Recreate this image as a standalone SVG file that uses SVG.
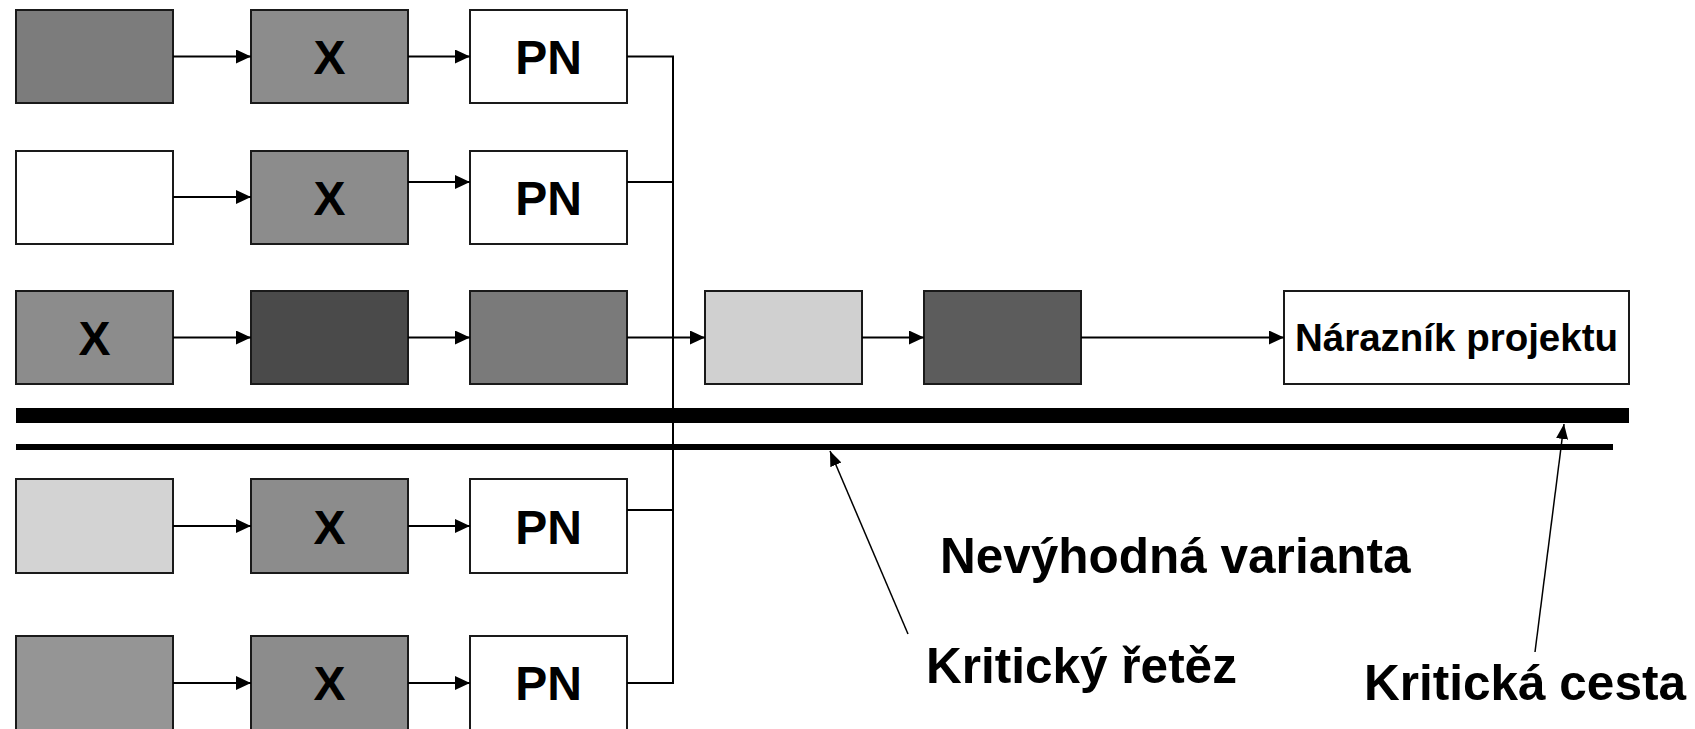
<svg xmlns="http://www.w3.org/2000/svg" width="1695" height="729" viewBox="0 0 1695 729">
<style>
.box{stroke:#1a1a1a;stroke-width:2}
.t{font-family:"Liberation Sans",Arial,sans-serif;font-weight:bold;fill:#000}
.big{font-size:48px}
.lbl{font-size:49.5px}
.c{text-anchor:middle}
.ln{stroke:#000;stroke-width:2;fill:none}
.ar{stroke:#000;stroke-width:2;fill:none;marker-end:url(#ah)}
.pt{stroke:#000;stroke-width:1.5;fill:none;marker-end:url(#ah2)}
</style>
<defs>
<marker id="ah" markerUnits="userSpaceOnUse" markerWidth="16" markerHeight="14" refX="15" refY="7" orient="auto">
<path d="M0,0 L15,7 L0,14 z" fill="#000"/>
</marker>
<marker id="ah2" markerUnits="userSpaceOnUse" markerWidth="16" markerHeight="14" refX="15" refY="6" orient="auto">
<path d="M0,0 L15,6 L0,12 z" fill="#000"/>
</marker>
</defs>
<rect width="1695" height="729" fill="#fff"/>

<g id="row1">
<g id="r1c1"><rect class="box" x="16" y="10" width="157" height="93" fill="#7c7c7c"/></g>
<g id="r1c2"><rect class="box" x="251" y="10" width="157" height="93" fill="#8c8c8c"/><text class="t big c" x="329.5" y="74">X</text></g>
<g id="r1c3"><rect class="box" x="470" y="10" width="157" height="93" fill="#fff"/><text class="t big c" x="548.5" y="74">PN</text></g>
</g>
<g id="row2">
<g id="r2c1"><rect class="box" x="16" y="151" width="157" height="93" fill="#fff"/></g>
<g id="r2c2"><rect class="box" x="251" y="151" width="157" height="93" fill="#8c8c8c"/><text class="t big c" x="329.5" y="215">X</text></g>
<g id="r2c3"><rect class="box" x="470" y="151" width="157" height="93" fill="#fff"/><text class="t big c" x="548.5" y="215">PN</text></g>
</g>
<g id="row3">
<g id="r3c1"><rect class="box" x="16" y="291" width="157" height="93" fill="#8c8c8c"/><text class="t big c" x="94.5" y="355">X</text></g>
<g id="r3c2"><rect class="box" x="251" y="291" width="157" height="93" fill="#4a4a4a"/></g>
<g id="r3c3"><rect class="box" x="470" y="291" width="157" height="93" fill="#7a7a7a"/></g>
<g id="r3c4"><rect class="box" x="705" y="291" width="157" height="93" fill="#d0d0d0"/></g>
<g id="r3c5"><rect class="box" x="924" y="291" width="157" height="93" fill="#5c5c5c"/></g>
<g id="buffer"><rect class="box" x="1284" y="291" width="345" height="93" fill="#fff"/><text class="t c" x="1456.5" y="351" font-size="38.5">Nárazník projektu</text></g>
</g>
<g id="row4">
<g id="r4c1"><rect class="box" x="16" y="479" width="157" height="94" fill="#d3d3d3"/></g>
<g id="r4c2"><rect class="box" x="251" y="479" width="157" height="94" fill="#8c8c8c"/><text class="t big c" x="329.5" y="544">X</text></g>
<g id="r4c3"><rect class="box" x="470" y="479" width="157" height="94" fill="#fff"/><text class="t big c" x="548.5" y="544">PN</text></g>
</g>
<g id="row5">
<g id="r5c1"><rect class="box" x="16" y="636" width="157" height="96" fill="#959595"/></g>
<g id="r5c2"><rect class="box" x="251" y="636" width="157" height="96" fill="#8c8c8c"/><text class="t big c" x="329.5" y="700">X</text></g>
<g id="r5c3"><rect class="box" x="470" y="636" width="157" height="96" fill="#fff"/><text class="t big c" x="548.5" y="700">PN</text></g>
</g>

<g id="bars">
<rect id="critical-path" x="16" y="408" width="1613" height="15" fill="#000"/>
<rect id="critical-chain" x="16" y="444" width="1597" height="6" fill="#000"/>
</g>

<g id="connectors">
<line class="ar" x1="173" y1="56.5" x2="251" y2="56.5"/>
<line class="ar" x1="408" y1="56.5" x2="470" y2="56.5"/>
<line class="ar" x1="173" y1="197" x2="251" y2="197"/>
<line class="ar" x1="408" y1="182" x2="470" y2="182"/>
<line class="ar" x1="173" y1="337.5" x2="251" y2="337.5"/>
<line class="ar" x1="408" y1="337.5" x2="470" y2="337.5"/>
<line class="ar" x1="627" y1="337.5" x2="705" y2="337.5"/>
<line class="ar" x1="862" y1="337.5" x2="924" y2="337.5"/>
<line class="ar" x1="1081" y1="337.5" x2="1284" y2="337.5"/>
<line class="ar" x1="173" y1="526" x2="251" y2="526"/>
<line class="ar" x1="408" y1="526" x2="470" y2="526"/>
<line class="ar" x1="173" y1="683" x2="251" y2="683"/>
<line class="ar" x1="408" y1="683" x2="470" y2="683"/>
<polyline class="ln" points="627,56.5 673,56.5 673,683 627,683"/>
<line class="ln" x1="627" y1="182" x2="673" y2="182"/>
<line class="ln" x1="627" y1="510" x2="673" y2="510"/>
<line class="pt" x1="908" y1="634" x2="830" y2="451"/>
<line class="pt" x1="1535" y1="652" x2="1564" y2="424"/>
</g>

<g id="labels">
<text class="t lbl" x="940" y="573">Nevýhodná varianta</text>
<text class="t lbl" x="926" y="683">Kritický řetěz</text>
<text class="t lbl" x="1364" y="700">Kritická cesta</text>
</g>
</svg>
